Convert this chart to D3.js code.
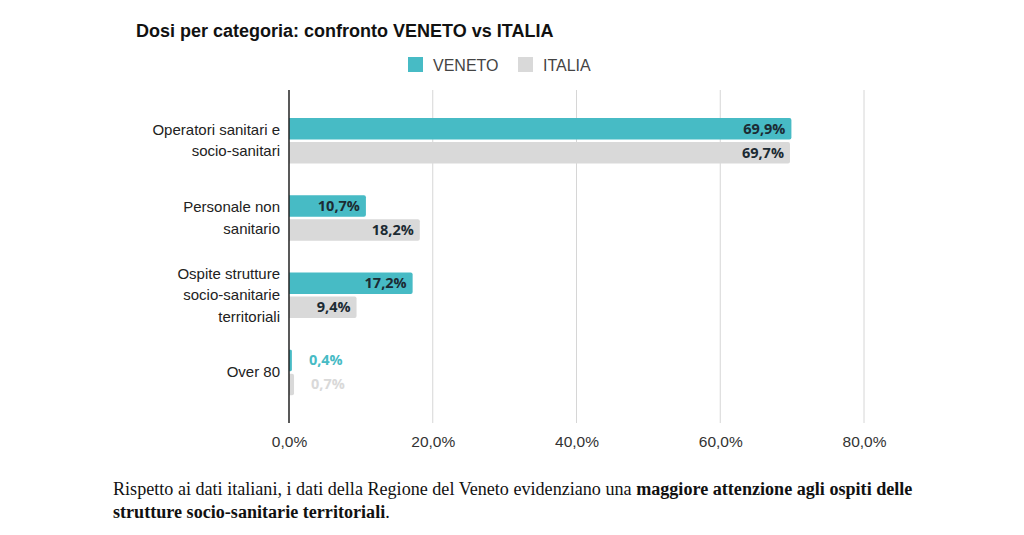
<!DOCTYPE html>
<html><head><meta charset="utf-8">
<script src="https://cdn.jsdelivr.net/npm/d3@7"></script>
<style>body{margin:0;background:#fff}svg{display:block}</style>
</head><body><svg id="c" width="1024" height="535"></svg>
<script>
const categories = [["Operatori sanitari e","socio-sanitari"],["Personale non","sanitario"],["Ospite strutture","socio-sanitarie","territoriali"],["Over 80"]];
const seriesNames = ["VENETO","ITALIA"];
const veneto = [69.9, 10.7, 17.2, 0.4];
const italia = [69.7, 18.2, 9.4, 0.7];
const ticks = [0,20,40,60,80];
const colors = ["#47bbc5","#d9d9d9"];

const svg = d3.select("#c");
const x = d3.scaleLinear().domain([0,80]).range([289,864]);
const y = d3.scaleBand().domain(d3.range(categories.length)).range([102,411]);
const fmt = v => v.toFixed(1).replace(".",",")+"%";
const sans = "Liberation Sans, Arial, sans-serif";

// title
svg.append("text").attr("x",136).attr("y",37).text("Dosi per categoria: confronto VENETO vs ITALIA")
  .attr("font-family",sans).attr("font-weight","bold").attr("font-size",18).attr("fill","#111");

// legend
const legX = [408,518];
seriesNames.forEach((s,i)=>{
  svg.append("rect").attr("x",legX[i]).attr("y",57).attr("width",15).attr("height",15).attr("fill",colors[i]);
  svg.append("text").attr("x",legX[i]+25).attr("y",70.5).text(s)
   .attr("font-family",sans).attr("font-size",16).attr("fill","#444");
});

// grid
svg.append("g").selectAll("line").data(ticks.slice(1)).join("line")
  .attr("x1",d=>x(d)).attr("x2",d=>x(d)).attr("y1",90).attr("y2",423)
  .attr("stroke","#d6d6d6").attr("stroke-width",1);

// x axis labels
const ax = svg.append("g").attr("transform","translate(0,423)")
  .call(d3.axisBottom(x).tickValues(ticks).tickSize(0).tickPadding(0).tickFormat(d=>fmt(d)));
ax.select(".domain").remove();
ax.selectAll("text").attr("y",24).attr("dy",0).attr("font-family",sans).attr("font-size",15.5).attr("fill","#333");

const barH = 21.5, gap = 2.5;
const data = [];
categories.forEach((c,i)=>{
  data.push({i, s:0, v:veneto[i]});
  data.push({i, s:1, v:italia[i]});
});
const cy = i => y(i)+y.bandwidth()/2;
const by = d => d.s===0 ? cy(d.i)-gap/2-barH : cy(d.i)+gap/2;

svg.append("g").selectAll("path").data(data).join("path")
  .attr("d",d=>{
    const x0=x(0), x1=x(d.v), y0=by(d), r=Math.min(2,(x1-x0)/2);
    return `M${x0},${y0}H${x1-r}Q${x1},${y0} ${x1},${y0+r}V${y0+barH-r}Q${x1},${y0+barH} ${x1-r},${y0+barH}H${x0}Z`;
  })
  .attr("fill",d=>colors[d.s]);

// value labels
svg.append("g").selectAll("text").data(data).join("text")
  .attr("x",d=> d.v>5 ? x(d.v)-6 : x(d.v)+17)
  .attr("y",d=>by(d)+barH/2+5)
  .attr("text-anchor",d=>d.v>5?"end":"start")
  .attr("font-family","Open Sans, sans-serif").attr("font-weight","bold").attr("font-size",14.5)
  .attr("fill",d=> d.v>5 ? "#1c2b33" : colors[d.s])
  .text(d=>fmt(d.v));

// y axis line
svg.append("line").attr("x1",x(0)).attr("x2",x(0)).attr("y1",90).attr("y2",423).attr("stroke","#222").attr("stroke-width",1.5);

// category labels
categories.forEach((lines,i)=>{
  const t = svg.append("text").attr("text-anchor","end").attr("font-family",sans).attr("font-size",15).attr("fill","#222");
  const lh = 21.5, start = cy(i) - (lines.length-1)*lh/2 + 5;
  lines.forEach((l,k)=> t.append("tspan").attr("x",280).attr("y",start+k*lh).text(l));
});

// bottom text
const ff = "Liberation Serif, Times New Roman, serif";
const g = svg.append("g");
const l1 = g.append("text").attr("x",0).attr("y",495).attr("font-family",ff).attr("font-size",18).attr("fill","#111");
l1.append("tspan").text("Rispetto ai dati italiani, i dati della Regione del Veneto evidenziano una ");
l1.append("tspan").attr("font-weight","bold").text("maggiore attenzione agli ospiti delle");
const w = l1.node().getComputedTextLength();
const k = 800 / w;
const l2 = g.append("text").attr("x",0).attr("y",518).attr("font-family",ff).attr("font-size",18).attr("fill","#111");
l2.append("tspan").attr("font-weight","bold").text("strutture socio-sanitarie territoriali");
l2.append("tspan").text(".");
g.attr("transform",`translate(113,0) scale(${k},1)`);
</script></body></html>
